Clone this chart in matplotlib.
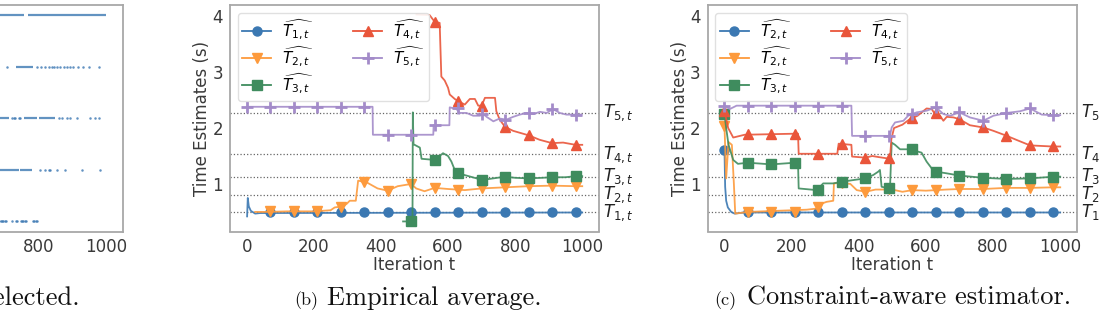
import numpy as np
import matplotlib
matplotlib.use("Agg")
import matplotlib.pyplot as plt
from matplotlib.lines import Line2D

# ---- data ------------------------------------------------------------------
marks = [0, 70, 140, 210, 280, 350, 420, 490, 560, 630, 700, 770, 840, 910, 980]
true_times = [0.49, 0.81, 1.13, 1.53, 2.27]

# (a) arm selections, only the visible tail (t > ~680)
sel_spans = {
    5: [(680, 757), (766, 1000)],
    4: [(733, 783)],
    3: [(680, 710), (755, 794), (799, 849)],
    2: [(680, 740), (745, 780)],
    1: [],
}
sel_points = {
    5: [],
    4: [705, 794, 806, 819, 829, 839, 846, 854, 864, 874, 884, 894, 903, 918, 933, 948, 978],
    3: [720, 726, 730, 740, 745, 859, 869, 884, 894, 914, 953, 968, 978],
    2: [804, 819, 829, 834, 854, 879, 929, 981],
    1: [682, 686, 690, 694, 698, 702, 721, 733, 736, 746, 750, 754, 758, 762, 781, 785, 792, 795],
}

# (b) empirical average
b_t1_t = [1, 3, 6, 12, 25, 40, 1000]
b_t1_v = [0.42, 0.75, 0.60, 0.52, 0.47, 0.48, 0.49]
b_t1_m = [None, 0.49, 0.49, 0.49, 0.49, 0.49, 0.49, 0.49, 0.49, 0.49, 0.49, 0.49, 0.49, 0.49, 0.49]

b_t2_t = [25, 60, 120, 200, 250, 262, 285, 297, 307, 325, 332, 360, 390, 420, 450, 490, 505,
          530, 560, 600, 650, 700, 770, 840, 910, 980, 1000]
b_t2_v = [0.50, 0.50, 0.51, 0.51, 0.53, 0.58, 0.60, 0.64, 0.70, 0.70, 1.06, 1.02, 0.92, 0.88,
          0.96, 1.00, 0.92, 0.87, 0.93, 0.91, 0.89, 0.92, 0.94, 0.96, 0.97, 0.96, 0.96]
b_t2_m = [None, 0.51, 0.51, 0.51, 0.59, 1.04, 0.88, 1.00, 0.93, 0.90, 0.92, 0.94, 0.96, 0.97, 0.96]

b_t3_t = [466, 494, 495, 497, 516, 521, 560, 575, 585, 600, 610, 620, 630, 655, 685, 700, 735,
          770, 800, 840, 880, 910, 950, 980, 1000]
b_t3_v = [0.33, 0.33, 2.28, 1.71, 1.65, 1.45, 1.43, 1.50, 1.55, 1.50, 1.40, 1.25, 1.19, 1.15,
          1.10, 1.07, 1.10, 1.13, 1.11, 1.10, 1.11, 1.12, 1.12, 1.14, 1.14]
b_t3_m = [None, None, None, None, None, None, None, 0.33, 1.42, 1.19, 1.07, 1.13, 1.10, 1.12, 1.14]

b_t4_t = [506, 545, 560, 575, 580, 590, 600, 605, 620, 630, 650, 665, 680, 690, 700, 710, 740,
          744, 754, 770, 794, 840, 873, 910, 943, 980, 1000]
b_t4_v = [4.03, 4.02, 3.90, 3.88, 2.92, 2.85, 2.72, 2.60, 2.52, 2.48, 2.42, 2.52, 2.52, 2.40,
          2.40, 2.54, 2.54, 2.30, 2.15, 2.02, 1.95, 1.87, 1.79, 1.73, 1.74, 1.70, 1.70]
b_t4_m = [None, None, None, None, None, None, None, None, 3.90, 2.48, 2.40, 2.02, 1.87, 1.73, 1.70]

b_t5_t = [0, 375, 376, 556, 557, 604, 605, 625, 635, 655, 675, 695, 705, 715, 735, 754, 774,
          794, 814, 834, 854, 874, 894, 913, 933, 953, 983, 998]
b_t5_v = [2.38, 2.38, 1.88, 1.88, 2.05, 2.05, 2.37, 2.34, 2.27, 2.27, 2.22, 2.22, 2.25, 2.20,
          2.12, 2.17, 2.15, 2.20, 2.24, 2.27, 2.25, 2.29, 2.27, 2.34, 2.27, 2.24, 2.24, 2.24]
b_t5_m = [2.38, 2.38, 2.38, 2.38, 2.38, 2.38, 1.88, 1.88, 2.05, 2.35, 2.25, 2.15, 2.27, 2.34, 2.24]

# (c) constraint-aware estimator
c_t1_t = [0, 2, 5, 10, 20, 30, 60, 1000]
c_t1_v = [1.60, 0.95, 0.70, 0.58, 0.50, 0.47, 0.49, 0.49]
c_t1_m = [1.60, 0.49, 0.49, 0.49, 0.49, 0.49, 0.49, 0.49, 0.49, 0.49, 0.49, 0.49, 0.49, 0.49, 0.49]

c_t2_t = [0, 5, 12, 22, 28, 32, 70, 245, 275, 285, 290, 304, 324, 326, 350, 375, 394, 420,
          450, 490, 500, 530, 560, 600, 630, 660, 700, 770, 840, 910, 980, 1000]
c_t2_v = [2.04, 1.10, 1.75, 1.70, 1.00, 0.47, 0.50, 0.54, 0.56, 0.58, 0.65, 0.68, 0.70, 1.01,
          1.02, 1.00, 0.89, 0.86, 0.90, 0.90, 0.90, 0.86, 0.89, 0.88, 0.89, 0.90, 0.91, 0.91,
          0.93, 0.93, 0.94, 0.94]
c_t2_m = [2.04, 0.50, 0.50, 0.50, 0.58, 1.02, 0.86, 0.91, 0.89, 0.89, 0.91, 0.91, 0.93, 0.93, 0.94]

c_t3_t = [0, 5, 12, 26, 40, 70, 140, 210, 219, 221, 275, 294, 324, 350, 384, 420, 443, 458,
          463, 468, 490, 493, 498, 508, 523, 552, 587, 602, 617, 630, 662, 700, 771, 841, 910,
          981, 1000]
c_t3_v = [2.25, 2.00, 1.70, 1.43, 1.36, 1.38, 1.35, 1.38, 1.38, 0.92, 0.89, 1.01, 1.01, 1.04,
          1.07, 1.10, 1.16, 1.22, 1.25, 0.95, 0.92, 0.92, 1.74, 1.70, 1.62, 1.62, 1.56, 1.40,
          1.28, 1.22, 1.19, 1.15, 1.11, 1.09, 1.10, 1.13, 1.13]
c_t3_m = [2.25, 1.38, 1.35, 1.38, 0.89, 1.04, 1.10, 0.92, 1.62, 1.22, 1.15, 1.11, 1.09, 1.10, 1.13]

c_t4_t = [0, 2, 11, 26, 60, 219, 221, 336, 340, 378, 380, 420, 440, 460, 493, 497, 505, 530,
          550, 575, 602, 617, 627, 642, 652, 662, 682, 699, 731, 771, 801, 841, 873, 910, 943,
          977, 1000]
c_t4_v = [2.30, 2.25, 2.00, 1.83, 1.88, 1.90, 1.54, 1.54, 1.72, 1.70, 1.49, 1.47, 1.50, 1.48,
          1.45, 1.80, 2.00, 2.06, 2.15, 2.22, 2.35, 2.34, 2.25, 2.22, 2.13, 2.20, 2.19, 2.16,
          2.05, 2.01, 1.95, 1.86, 1.78, 1.69, 1.68, 1.67, 1.67]
c_t4_m = [2.30, 1.90, 1.90, 1.90, 1.54, 1.71, 1.47, 1.46, 2.18, 2.27, 2.17, 2.01, 1.86, 1.69, 1.67]

c_t5_t = [0, 16, 36, 378, 380, 493, 498, 508, 533, 547, 560, 572, 602, 630, 652, 672, 700,
          731, 771, 801, 841, 880, 910, 945, 980, 1000]
c_t5_v = [2.40, 2.34, 2.40, 2.40, 1.86, 1.86, 2.01, 2.10, 2.13, 2.22, 2.25, 2.28, 2.31, 2.37,
          2.25, 2.22, 2.28, 2.19, 2.13, 2.22, 2.27, 2.30, 2.35, 2.24, 2.23, 2.23]
c_t5_m = [2.40, 2.40, 2.40, 2.40, 2.40, 2.40, 1.86, 1.86, 2.25, 2.37, 2.28, 2.13, 2.27, 2.35, 2.23]

# ---- styling ----------------------------------------------------------------
colors = ["#3b78b2", "#fd9a3c", "#3f8c5e", "#e9553a", "#a38bc9"]
markers = ["o", "v", "s", "^", "P"]
text_col = "#3a3a3a"
spine_col = "#a8a8a8"

plt.rcParams["font.family"] = "DejaVu Sans"
plt.rcParams["mathtext.fontset"] = "dejavusans"

fig = plt.figure(figsize=(10.99, 3.2), dpi=100)
W, H = 1099.0, 320.0


def make_ax(left_px, right_px, top_px=5, bottom_px=231.5):
    ax = fig.add_axes([left_px / W, 1 - bottom_px / H,
                       (right_px - left_px) / W, (bottom_px - top_px) / H])
    for s in ax.spines.values():
        s.set_color(spine_col)
        s.set_linewidth(1.3)
    ax.tick_params(length=0, pad=5, labelsize=12, colors=text_col)
    ax.set_xlim(-50, 1050)
    ax.set_xticks([0, 200, 400, 600, 800, 1000])
    return ax


# ---- (a) selected arms (mostly outside the picture) -------------------------
ax0 = make_ax(-246, 122.7)
for arm in [1, 2, 3, 4, 5]:
    for t0, t1 in sel_spans[arm]:
        ax0.hlines(arm, t0, t1, color=colors[0], lw=1.6, alpha=0.8)
    pts = sel_points[arm]
    ax0.plot(pts, [arm] * len(pts), ls="none", marker="o", ms=1.8,
             mew=0, color=colors[0], alpha=0.8)
ax0.set_ylim(0.8, 5.2)
ax0.set_yticks([])
fig.text(80 / W, 0.047, "(a) Arms selected.", fontfamily="cmr10",
         fontsize=19, ha="right", va="baseline", color="#111111")


def estimate_panel(ax, series, mark_lists, labels):
    for k in range(5):
        ax.axhline(true_times[k], ls=":", color="#666666", lw=0.9, zorder=1)
    for k, ((ts, vs), mv) in enumerate(zip(series, mark_lists)):
        ax.plot(ts, vs, color=colors[k], lw=1.3, alpha=0.9, zorder=2 + k)
        mt = [t for t, v in zip(marks, mv) if v is not None]
        mvv = [v for v in mv if v is not None]
        if markers[k] == "P":
            ax.plot(mt, mvv, ls="none", marker="+", ms=8, mew=2.0,
                    color=colors[k], zorder=2 + k)
        else:
            ax.plot(mt, mvv, ls="none", marker=markers[k], ms=6.5,
                    color=colors[k], zorder=2 + k)
    ax.set_ylim(0.15, 4.2)
    ax.set_yticks([1, 2, 3, 4])
    ax.set_xlabel("Iteration t", fontsize=12, color=text_col, labelpad=0)
    ax.set_ylabel("Time Estimates (s)", fontsize=12, color=text_col, labelpad=1)
    for k in range(5):
        ax.text(1.012, true_times[k], r"$T_{%d,t}$" % (k + 1),
                transform=ax.get_yaxis_transform(), fontsize=12,
                va="center", ha="left", color="#222222")
    handles = []
    for k in range(5):
        if markers[k] == "P":
            h = Line2D([], [], color=colors[k], lw=1.3, marker="+", ms=8, mew=2.0)
        else:
            h = Line2D([], [], color=colors[k], lw=1.3, marker=markers[k], ms=6.5)
        handles.append(h)
    leg = ax.legend(handles, labels, loc="upper left", ncol=2, fontsize=11,
                    handlelength=1.9, handletextpad=0.7, labelspacing=0.2,
                    columnspacing=2.6, borderpad=0.3, framealpha=0.9,
                    edgecolor="#dddddd")
    leg.set_zorder(10)


b_labels = [r"$\widehat{T_{%d,t}}$" % (k + 1) for k in range(5)]
# the reference legend of panel (c) reads T_{2,t} on its first entry
c_labels = [r"$\widehat{T_{2,t}}$"] + b_labels[1:]

# ---- (b) empirical average --------------------------------------------------
ax1 = make_ax(230, 599)
estimate_panel(ax1,
               [(b_t1_t, b_t1_v), (b_t2_t, b_t2_v), (b_t3_t, b_t3_v),
                (b_t4_t, b_t4_v), (b_t5_t, b_t5_v)],
               [b_t1_m, b_t2_m, b_t3_m, b_t4_m, b_t5_m], b_labels)
fig.text(318 / W, 0.047, "(b)", fontfamily="cmr10", fontsize=13,
         ha="right", va="baseline", color="#111111")
fig.text(326.7 / W, 0.047, "Empirical average.", fontfamily="cmr10",
         fontsize=19, ha="left", va="baseline", color="#111111")

# ---- (c) constraint-aware estimator ----------------------------------------
ax2 = make_ax(707.7, 1077)
estimate_panel(ax2,
               [(c_t1_t, c_t1_v), (c_t2_t, c_t2_v), (c_t3_t, c_t3_v),
                (c_t4_t, c_t4_v), (c_t5_t, c_t5_v)],
               [c_t1_m, c_t2_m, c_t3_m, c_t4_m, c_t5_m], c_labels)
fig.text(736 / W, 0.047, "(c)", fontfamily="cmr10", fontsize=13,
         ha="right", va="baseline", color="#111111")
fig.text(746.7 / W, 0.047, "Constraint-aware estimator.", fontfamily="cmr10",
         fontsize=19, ha="left", va="baseline", color="#111111")

fig.savefig("out.png", dpi=100)
